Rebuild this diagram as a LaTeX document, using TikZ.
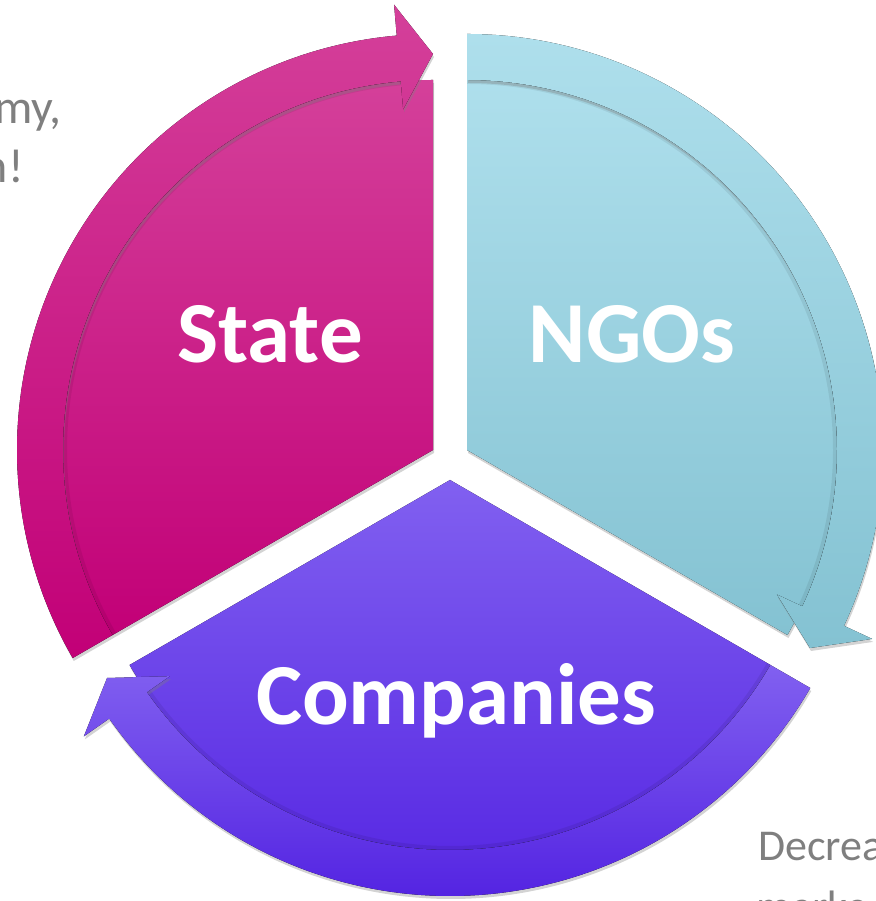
\documentclass[tikz,border=0pt]{standalone}
\usepackage{fontspec}
\setmainfont{Carlito}
\usetikzlibrary{shadows}

\definecolor{stateTop}{HTML}{D4409A}
\definecolor{stateBot}{HTML}{C20077}
\definecolor{ngoTop}{HTML}{AEDFEC}
\definecolor{ngoBot}{HTML}{84C2D2}
\definecolor{compTop}{HTML}{8160F0}
\definecolor{compBot}{HTML}{5424E2}
\definecolor{noteGray}{HTML}{7F7F7F}

\begin{document}
\begin{tikzpicture}[
    x=1pt, y=1pt,
    title/.style={
        text=white, font=\bfseries\fontsize{87}{95}\selectfont, inner sep=0pt
    },
    note/.style={
        text=noteGray, font=\fontsize{48}{56}\selectfont, inner sep=0pt
    },
    shadowed/.style={
        drop shadow={opacity=.35, shadow xshift=1pt, shadow yshift=-3pt}
    },
    rim/.style={
        draw=black, draw opacity=.07, line width=4pt
    }
]

    \useasboundingbox (0,0) rectangle (875,901);

    \coordinate (sc) at (433,451);
    \coordinate (nc) at (467,451);
    \coordinate (cc) at (450,421);

    % state
    \fill[shadowed, top color=stateTop, bottom color=stateBot] (sc) -- ([shift={(90:370pt)}]sc)
        arc[start angle=90, end angle=210, radius=370pt] -- cycle;
    \draw[rim] ([shift={(95:368pt)}]sc) arc[start angle=95, end angle=210, radius=368pt];
    \fill[shadowed, top color=stateTop, bottom color=stateBot] ([shift={(210:416pt)}]sc)
        arc[start angle=210, end angle=95, radius=416pt]
        -- ([shift={(95:447pt)}]sc) -- ([shift={(90:396pt)}]sc) -- ([shift={(95:342pt)}]sc)
        -- ([shift={(95:370pt)}]sc) arc[start angle=95, end angle=210, radius=370pt] -- cycle;

    % ngos
    \fill[shadowed, top color=ngoTop, bottom color=ngoBot] (nc) -- ([shift={(90:370pt)}]nc)
        arc[start angle=90, end angle=-30, radius=370pt] -- cycle;
    \draw[rim] ([shift={(90:368pt)}]nc) arc[start angle=90, end angle=-25, radius=368pt];
    \fill[shadowed, top color=ngoTop, bottom color=ngoBot] ([shift={(90:416pt)}]nc)
        arc[start angle=90, end angle=-25, radius=416pt]
        -- ([shift={(-25:447pt)}]nc) -- ([shift={(-30:396pt)}]nc) -- ([shift={(-25:342pt)}]nc)
        -- ([shift={(-25:370pt)}]nc) arc[start angle=-25, end angle=90, radius=370pt] -- cycle;

    % companies
    \fill[shadowed, top color=compTop, bottom color=compBot] (cc) -- ([shift={(210:370pt)}]cc)
        arc[start angle=210, end angle=330, radius=370pt] -- cycle;
    \draw[rim] ([shift={(-30:368pt)}]cc) arc[start angle=-30, end angle=-145, radius=368pt];
    \fill[shadowed, top color=compTop, bottom color=compBot] ([shift={(-30:416pt)}]cc)
        arc[start angle=-30, end angle=-145, radius=416pt]
        -- ([shift={(-145:447pt)}]cc) -- ([shift={(-150:396pt)}]cc) -- ([shift={(-145:342pt)}]cc)
        -- ([shift={(-145:370pt)}]cc) arc[start angle=-145, end angle=-30, radius=370pt] -- cycle;

    \node[title, anchor=base](state) at (270,538){State};
    \node[title, anchor=base](ngos) at (632,538){NGOs};
    \node[title, anchor=base](companies) at (456,176){Companies};

    \node[note, anchor=base east](noteA) at (62,777){my,};
    \node[note, anchor=base east](noteB) at (24,718){n!};
    \node[note, anchor=base west, font=\fontsize{44}{52}\selectfont](noteC) at (758,40){Decrea};
    \node[note, anchor=base west, font=\fontsize{44}{52}\selectfont](noteD) at (756,-20){marke};

\end{tikzpicture}
\end{document}
